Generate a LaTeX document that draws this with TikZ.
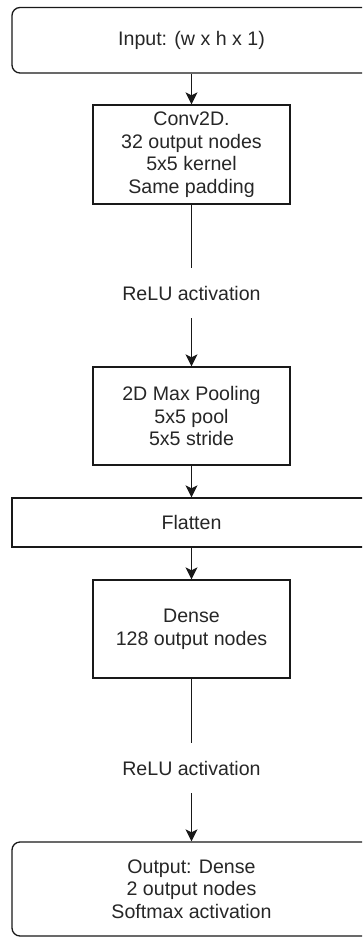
\documentclass[tikz,border=0pt]{standalone}
\usepackage{fontspec}
\setmainfont{Liberation Sans}
\usetikzlibrary{arrows.meta}
\begin{document}
\begin{tikzpicture}[x=1pt,y=-1pt,
  txt/.style={font=\fontsize{19.6}{22.6}\selectfont, text=black!85, align=center},
  box/.style={txt, draw=black!90, line width=1.3pt, rectangle, inner sep=0pt},
  narrowbox/.style={box, minimum width=197pt},
  widebox/.style={box, minimum width=359pt},
  roundbox/.style={widebox, rounded corners=8pt},
  lbl/.style={txt, inner sep=0pt, minimum height=50pt},
  conn/.style={draw=black!90, line width=1.3pt},
  arr/.style={conn, -{Stealth[length=12pt, width=12pt, inset=3pt]}}
]
\useasboundingbox (0,0) rectangle (362,938);
\clip (0,0) rectangle (362,938);

\node[roundbox, minimum height=65.5pt] (input) at (191.5,40.25) {Input: (w x h x 1)};
\node[narrowbox, minimum height=99pt] (conv) at (191.5,154.5) {Conv2D.\\32 output nodes\\5x5 kernel\\Same padding};
\node[lbl] (relu1) at (191.5,293) {ReLU activation};
\node[narrowbox, minimum height=98pt] (pool) at (191.5,416) {2D Max Pooling\\5x5 pool\\5x5 stride};
\node[widebox, minimum height=49pt] (flat) at (191.5,522.5) {Flatten};
\node[narrowbox, minimum height=98pt] (dense) at (191.5,629) {Dense\\128 output nodes};
\node[lbl] (relu2) at (191.5,768) {ReLU activation};
\node[roundbox, minimum height=94pt] (out) at (191.5,889) {Output: Dense\\2 output nodes\\Softmax activation};

\draw[arr] (input.south) -- (conv.north);
\draw[conn] (conv.south) -- (relu1.north);
\draw[arr] (relu1.south) -- (pool.north);
\draw[arr] (pool.south) -- (flat.north);
\draw[arr] (flat.south) -- (dense.north);
\draw[conn] (dense.south) -- (relu2.north);
\draw[arr] (relu2.south) -- (out.north);
\end{tikzpicture}
\end{document}
